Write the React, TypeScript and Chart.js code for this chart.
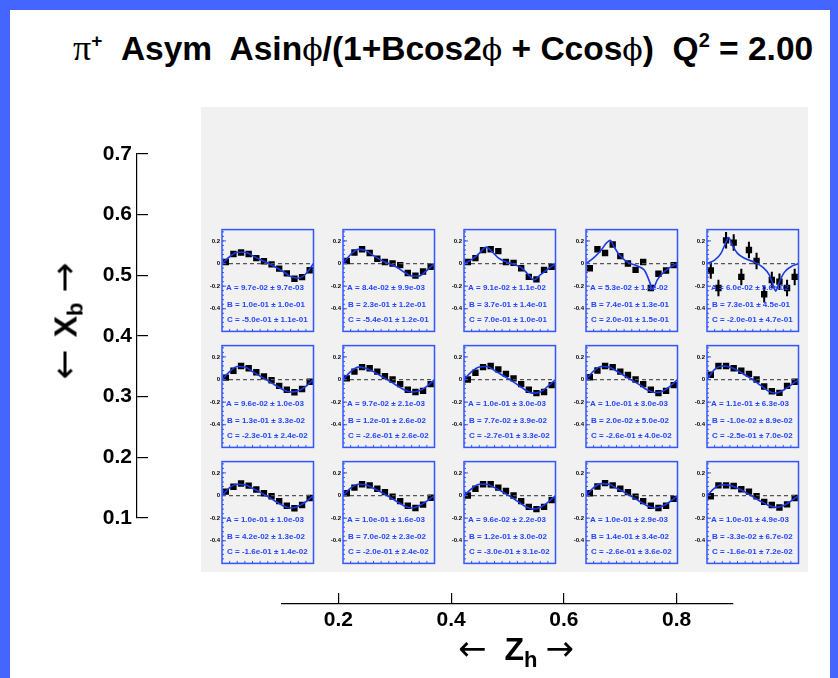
import React, { useEffect, useRef } from "react";
import { Chart, registerables } from "chart.js";
Chart.register(...registerables);

// ---------------- data ----------------
const phiBins = [15, 45, 75, 105, 135, 165, 195, 225, 255, 285, 315, 345];
const fitPhi = [0, 30, 60, 90, 120, 150, 180, 210, 240, 270, 300, 330, 360];
const fitPhiR1C3 = [0, 30, 60, 87, 110, 135, 158, 190, 224, 250, 275, 300, 330, 360];
const fitPhiR1C4 = [0, 30, 60, 80, 95, 110, 130, 160, 200, 230, 250, 262, 280, 300, 330, 360];
const fitPhiR1C5 = [0, 30, 55, 75, 85, 100, 120, 150, 190, 220, 245, 262, 270, 285, 305, 330, 360];

const asymR1C1 = [0.014, 0.084, 0.098, 0.084, 0.048, 0.02, -0.008, -0.045, -0.087, -0.135, -0.12, -0.059];
const asymR1C2 = [0.022, 0.098, 0.126, 0.093, 0.042, 0.014, 0.0, -0.014, -0.084, -0.107, -0.07, -0.028];
const asymR1C3 = [0.014, 0.048, 0.118, 0.126, 0.11, 0.014, 0.006, -0.042, -0.118, -0.14, -0.056, -0.028];
const asymR1C4 = [-0.042, 0.126, 0.093, 0.168, 0.065, 0.0, -0.056, 0.014, -0.216, -0.09, -0.062, -0.014];
const asymR1C5 = [-0.062, -0.216, 0.205, 0.185, -0.118, 0.12, 0.022, -0.272, -0.146, -0.16, -0.216, -0.118];
const asymR2C1 = [0.017, 0.078, 0.12, 0.1, 0.064, 0.028, -0.006, -0.056, -0.09, -0.112, -0.084, -0.02];
const asymR2C2 = [0.01, 0.07, 0.11, 0.1, 0.07, 0.03, 0.0, -0.04, -0.09, -0.11, -0.1, -0.04];
const asymR2C3 = [0.0, 0.06, 0.11, 0.12, 0.09, 0.05, 0.01, -0.04, -0.09, -0.12, -0.11, -0.05];
const asymR2C4 = [0.02, 0.08, 0.12, 0.11, 0.07, 0.04, 0.0, -0.04, -0.09, -0.12, -0.1, -0.05];
const asymR2C5 = [0.042, 0.12, 0.12, 0.1, 0.078, 0.05, 0.0, -0.062, -0.104, -0.118, -0.056, -0.02];
const asymR3C1 = [0.034, 0.078, 0.106, 0.087, 0.053, 0.02, -0.006, -0.05, -0.09, -0.112, -0.084, -0.022];
const asymR3C2 = [0.02, 0.07, 0.1, 0.09, 0.06, 0.03, -0.01, -0.05, -0.09, -0.11, -0.08, -0.02];
const asymR3C3 = [0.0, 0.06, 0.1, 0.1, 0.07, 0.04, 0.0, -0.05, -0.1, -0.12, -0.1, -0.04];
const asymR3C4 = [0.02, 0.08, 0.11, 0.09, 0.06, 0.03, -0.01, -0.05, -0.09, -0.11, -0.09, -0.03];
const asymR3C5 = [-0.006, 0.09, 0.09, 0.084, 0.056, 0.034, -0.006, -0.056, -0.084, -0.106, -0.078, -0.022];

const fitR1C1 = [0, 0.06, 0.1, 0.1, 0.07, 0.035, 0.005, -0.03, -0.07, -0.115, -0.13, -0.09, 0];
const fitR1C2 = [0, 0.08, 0.125, 0.115, 0.07, 0.03, 0.0, -0.03, -0.075, -0.11, -0.11, -0.06, 0];
const fitR1C3 = [0, 0.035, 0.09, 0.145, 0.105, 0.05, 0.022, -0.005, -0.034, -0.09, -0.146, -0.1, -0.05, 0];
const fitR1C4 = [0, 0.05, 0.12, 0.18, 0.205, 0.15, 0.08, 0.017, -0.02, -0.06, -0.16, -0.23, -0.146, -0.09, -0.034, 0];
const fitR1C5 = [0, 0.03, 0.09, 0.19, 0.23, 0.16, 0.09, 0.045, 0.008, -0.034, -0.1, -0.2, -0.244, -0.16, -0.076, -0.028, 0];
const fitR2C1 = [0, 0.07, 0.115, 0.11, 0.07, 0.03, -0.01, -0.05, -0.09, -0.11, -0.1, -0.06, 0];
const fitR2C2 = [0, 0.07, 0.11, 0.1, 0.07, 0.03, -0.01, -0.05, -0.09, -0.11, -0.1, -0.06, 0];
const fitR2C3 = [0, 0.07, 0.11, 0.115, 0.08, 0.04, 0, -0.045, -0.09, -0.12, -0.11, -0.06, 0];
const fitR2C4 = [0, 0.075, 0.115, 0.11, 0.075, 0.035, -0.005, -0.045, -0.09, -0.115, -0.105, -0.06, 0];
const fitR2C5 = [0, 0.09, 0.12, 0.11, 0.08, 0.04, 0, -0.05, -0.1, -0.12, -0.095, -0.05, 0];
const fitR3C1 = [0, 0.07, 0.1, 0.095, 0.065, 0.03, -0.01, -0.05, -0.09, -0.11, -0.095, -0.055, 0];
const fitR3C2 = [0, 0.065, 0.1, 0.095, 0.065, 0.03, -0.01, -0.05, -0.09, -0.11, -0.09, -0.05, 0];
const fitR3C3 = [0, 0.06, 0.1, 0.1, 0.07, 0.035, -0.005, -0.05, -0.095, -0.12, -0.105, -0.06, 0];
const fitR3C4 = [0, 0.07, 0.105, 0.1, 0.065, 0.03, -0.01, -0.05, -0.09, -0.11, -0.095, -0.055, 0];
const fitR3C5 = [0, 0.065, 0.095, 0.09, 0.065, 0.03, -0.01, -0.05, -0.085, -0.105, -0.09, -0.05, 0];

const errRow1 = [0.012, 0.013, 0.016, 0.02, 0.07];
const errRow2 = [0.006, 0.007, 0.008, 0.009, 0.012];
const errRow3 = [0.005, 0.006, 0.007, 0.008, 0.011];

const paramA = [
  "A = 9.7e-02 \u00b1 9.7e-03", "A = 8.4e-02 \u00b1 9.9e-03", "A = 9.1e-02 \u00b1 1.1e-02", "A = 5.3e-02 \u00b1 1.4e-02", "A = 6.0e-02 \u00b1 5.6e-02",
  "A = 9.6e-02 \u00b1 1.0e-03", "A = 9.7e-02 \u00b1 2.1e-03", "A = 1.0e-01 \u00b1 3.0e-03", "A = 1.0e-01 \u00b1 3.0e-03", "A = 1.1e-01 \u00b1 6.3e-03",
  "A = 1.0e-01 \u00b1 1.0e-03", "A = 1.0e-01 \u00b1 1.6e-03", "A = 9.6e-02 \u00b1 2.2e-03", "A = 1.0e-01 \u00b1 2.9e-03", "A = 1.0e-01 \u00b1 4.9e-03",
];
const paramB = [
  "B = 1.0e-01 \u00b1 1.0e-01", "B = 2.3e-01 \u00b1 1.2e-01", "B = 3.7e-01 \u00b1 1.4e-01", "B = 7.4e-01 \u00b1 1.3e-01", "B = 7.3e-01 \u00b1 4.5e-01",
  "B = 1.3e-01 \u00b1 3.3e-02", "B = 1.2e-01 \u00b1 2.6e-02", "B = 7.7e-02 \u00b1 3.9e-02", "B = 2.0e-02 \u00b1 5.0e-02", "B = -1.0e-02 \u00b1 8.9e-02",
  "B = 4.2e-02 \u00b1 1.3e-02", "B = 7.0e-02 \u00b1 2.3e-02", "B = 1.2e-01 \u00b1 3.0e-02", "B = 1.4e-01 \u00b1 3.4e-02", "B = -3.3e-02 \u00b1 6.7e-02",
];
const paramC = [
  "C = -5.0e-01 \u00b1 1.1e-01", "C = -5.4e-01 \u00b1 1.2e-01", "C = 7.0e-01 \u00b1 1.0e-01", "C = 2.0e-01 \u00b1 1.5e-01", "C = -2.0e-01 \u00b1 4.7e-01",
  "C = -2.3e-01 \u00b1 2.4e-02", "C = -2.6e-01 \u00b1 2.6e-02", "C = -2.7e-01 \u00b1 3.3e-02", "C = -2.6e-01 \u00b1 4.0e-02", "C = -2.5e-01 \u00b1 7.0e-02",
  "C = -1.6e-01 \u00b1 1.4e-02", "C = -2.0e-01 \u00b1 2.4e-02", "C = -3.0e-01 \u00b1 3.1e-02", "C = -2.6e-01 \u00b1 3.6e-02", "C = -1.6e-01 \u00b1 7.2e-02",
];

const panelAsym = [
  asymR1C1, asymR1C2, asymR1C3, asymR1C4, asymR1C5,
  asymR2C1, asymR2C2, asymR2C3, asymR2C4, asymR2C5,
  asymR3C1, asymR3C2, asymR3C3, asymR3C4, asymR3C5,
];
const panelFit = [
  fitR1C1, fitR1C2, fitR1C3, fitR1C4, fitR1C5,
  fitR2C1, fitR2C2, fitR2C3, fitR2C4, fitR2C5,
  fitR3C1, fitR3C2, fitR3C3, fitR3C4, fitR3C5,
];
const panelFitPhi = [
  fitPhi, fitPhi, fitPhiR1C3, fitPhiR1C4, fitPhiR1C5,
  fitPhi, fitPhi, fitPhi, fitPhi, fitPhi,
  fitPhi, fitPhi, fitPhi, fitPhi, fitPhi,
];
const panelErr = [...errRow1, ...errRow2, ...errRow3];

const panelYTicks = [0.2, 0, -0.2, -0.4];
const xbTicks = [0.1, 0.2, 0.3, 0.4, 0.5, 0.6, 0.7];
const zhTicks = [0.2, 0.4, 0.6, 0.8];

// ---------------- styling ----------------
const SANS = "'Liberation Sans', Arial, Helvetica, sans-serif";
const PAGE_BLUE = "#4466ff";
const FRAME_BLUE = "#3355ff";
const TEXT_BLUE = "#2244ff";
const CURVE_BLUE = "#1a3ae6";
const GRAY = "#f1f1f1";

const colLeft = [222, 343, 464, 586, 707];
const rowTop = [227, 343, 459];
const BOX_W = 93;
const BOX_H = 107;
const PAD_L = 18;
const PAD = 3;

function fmtPanelTick(v: number) {
  if (Math.abs(v) < 1e-9) return "0";
  return String(Math.round(v * 10) / 10);
}

function makeDeco(i: number) {
  return {
    id: "deco" + i,
    afterDatasetsDraw(chart: any) {
      const { ctx, chartArea: a } = chart;
      ctx.save();
      ctx.fillStyle = TEXT_BLUE;
      ctx.font = `bold 8px ${SANS}`;
      ctx.textBaseline = "middle";
      ctx.textAlign = "left";
      ctx.fillText(paramA[i], a.left + 4, a.top + 58.5);
      ctx.fillText(paramB[i], a.left + 5, a.top + 75);
      ctx.fillText(paramC[i], a.left + 5, a.top + 90.5);
      ctx.restore();
    },
    afterDraw(chart: any) {
      const { ctx, chartArea: a, scales } = chart;
      const ys = scales.y;
      const xs = scales.x;
      ctx.save();
      ctx.strokeStyle = FRAME_BLUE;
      ctx.lineWidth = 1.5;
      ctx.strokeRect(a.left, a.top, a.right - a.left, a.bottom - a.top);
      ctx.lineWidth = 1;
      ctx.beginPath();
      for (let k = -15; k <= 7; k++) {
        const v = k * 0.04;
        const py = ys.getPixelForValue(v);
        if (py < a.top + 1 || py > a.bottom - 1) continue;
        ctx.moveTo(a.left, py);
        ctx.lineTo(a.left + 2, py);
      }
      panelYTicks.forEach((v) => {
        const py = ys.getPixelForValue(v);
        ctx.moveTo(a.left, py);
        ctx.lineTo(a.left + 4, py);
      });
      for (let d = 30; d < 360; d += 30) {
        const px = xs.getPixelForValue(d);
        ctx.moveTo(px, a.bottom);
        ctx.lineTo(px, a.bottom - 2.5);
      }
      ctx.stroke();
      ctx.restore();
    },
  };
}

function Panel({ i }: { i: number }) {
  const ref = useRef<HTMLCanvasElement>(null);
  const row = Math.floor(i / 5);
  const col = i % 5;
  const W = PAD_L + BOX_W + PAD;
  const H = PAD + BOX_H + PAD;
  useEffect(() => {
    const vals = panelAsym[i];
    const err = panelErr[i];
    const fit = panelFit[i];
    const fphi = panelFitPhi[i];
    const chart = new Chart(ref.current as HTMLCanvasElement, {
      type: "scatter",
      data: {
        datasets: [
          {
            type: "line",
            data: fphi.map((p, k) => ({ x: p, y: fit[k] })),
            borderColor: CURVE_BLUE,
            borderWidth: 1.6,
            pointRadius: 0,
            showLine: true,
            cubicInterpolationMode: "monotone",
            fill: false,
            order: 0,
          } as any,
          {
            type: "line",
            data: [
              { x: 0, y: 0 },
              { x: 360, y: 0 },
            ],
            borderColor: "#555555",
            borderDash: [4, 3],
            borderWidth: 1.3,
            pointRadius: 0,
            showLine: true,
            fill: false,
            order: 1,
          } as any,
          {
            type: "scatter",
            data: phiBins.map((p, k) => ({ x: p, y: vals[k] })),
            pointStyle: "rect",
            pointRadius: 4.5,
            backgroundColor: "#000000",
            borderWidth: 0,
            order: 2,
          } as any,
          {
            type: "bar",
            data: phiBins.map((p, k) => ({ x: p, y: [vals[k] - err, vals[k] + err] })),
            backgroundColor: "#000000",
            barThickness: 1.4,
            borderWidth: 0,
            order: 3,
          } as any,
        ],
      },
      options: {
        responsive: false,
        animation: false,
        events: [],
        layout: { padding: { left: 0, top: PAD, right: PAD, bottom: PAD } },
        plugins: { legend: { display: false }, tooltip: { enabled: false }, title: { display: false } },
        scales: {
          x: { type: "linear", min: 0, max: 360, display: false, offset: false },
          y: {
            type: "linear",
            min: -0.6,
            max: 0.3,
            afterFit: (s: any) => {
              s.width = PAD_L;
            },
            afterBuildTicks: (s: any) => {
              s.ticks = panelYTicks.map((v) => ({ value: v }));
            },
            grid: { display: false, drawTicks: false },
            border: { display: false },
            ticks: {
              padding: 2,
              color: "#000",
              font: { family: SANS, size: 6, weight: "bold" },
              callback: (v: any) => fmtPanelTick(Number(v)),
            },
          },
        },
      } as any,
      plugins: [makeDeco(i)],
    });
    return () => chart.destroy();
  }, []);
  return (
    <canvas
      ref={ref}
      width={W}
      height={H}
      style={{ position: "absolute", left: colLeft[col] - PAD_L, top: rowTop[row] - PAD, width: W, height: H }}
    />
  );
}

function XbAxis() {
  const ref = useRef<HTMLCanvasElement>(null);
  useEffect(() => {
    const chart = new Chart(ref.current as HTMLCanvasElement, {
      type: "scatter",
      data: { datasets: [] },
      options: {
        responsive: false,
        animation: false,
        events: [],
        layout: { padding: { top: 154, bottom: 678 - 518, left: 0, right: 12 } },
        plugins: { legend: { display: false }, tooltip: { enabled: false } },
        scales: {
          x: { type: "linear", display: false, min: 0, max: 1 },
          y: {
            type: "linear",
            min: 0.1,
            max: 0.7,
            afterBuildTicks: (s: any) => {
              s.ticks = xbTicks.map((v) => ({ value: v }));
            },
            afterFit: (s: any) => {
              s.width = 137;
            },
            grid: { drawOnChartArea: true, drawTicks: false, color: "#000", lineWidth: 1.2 },
            border: { display: true, color: "#000", width: 1.2 },
            ticks: {
              padding: 5,
              color: "#000",
              font: { family: SANS, size: 21, weight: "bold" },
              callback: (v: any) => Number(v).toFixed(1),
            },
          },
        },
      } as any,
    });
    return () => chart.destroy();
  }, []);
  return <canvas ref={ref} width={160} height={678} style={{ position: "absolute", left: 0, top: 0, width: 160, height: 678 }} />;
}

function ZhAxis() {
  const ref = useRef<HTMLCanvasElement>(null);
  useEffect(() => {
    const chart = new Chart(ref.current as HTMLCanvasElement, {
      type: "scatter",
      data: { datasets: [] },
      options: {
        responsive: false,
        animation: false,
        events: [],
        layout: { padding: { top: 33, bottom: 0, left: 282, right: 838 - 733 } },
        plugins: { legend: { display: false }, tooltip: { enabled: false } },
        scales: {
          y: { type: "linear", display: false, min: 0, max: 1 },
          x: {
            type: "linear",
            min: 0.1,
            max: 0.9,
            afterBuildTicks: (s: any) => {
              s.ticks = zhTicks.map((v) => ({ value: v }));
            },
            afterFit: (s: any) => {
              s.height = 74;
            },
            grid: { drawOnChartArea: true, drawTicks: false, color: "#000", lineWidth: 1.2 },
            border: { display: true, color: "#000", width: 1.2 },
            ticks: {
              padding: 4,
              color: "#000",
              maxRotation: 0,
              font: { family: SANS, size: 21, weight: "bold" },
              callback: (v: any) => Number(v).toFixed(1),
            },
          },
        },
      } as any,
    });
    return () => chart.destroy();
  }, []);
  return <canvas ref={ref} width={838} height={118} style={{ position: "absolute", left: 0, top: 560, width: 838, height: 118 }} />;
}

const phiStyle: React.CSSProperties = { fontFamily: "'DejaVu Serif', serif", fontWeight: "normal", fontSize: 30 };
const Phi = () => <span style={phiStyle}>{"\u03d5"}</span>;

export default function App() {
  return (
    <div style={{ position: "absolute", left: 0, top: 0, width: 838, height: 678, background: PAGE_BLUE, overflow: "hidden" }}>
      <div style={{ position: "absolute", left: 10, top: 10, width: 820, height: 668, background: "#ffffff" }} />
      <div style={{ position: "absolute", left: 201, top: 107, width: 607, height: 465, background: GRAY }} />
      <div
        style={{
          position: "absolute",
          left: 73,
          top: 28,
          fontFamily: SANS,
          fontWeight: "bold",
          fontSize: 33.5,
          lineHeight: "40px",
          whiteSpace: "pre",
          color: "#000",
        }}
      >
        <span style={{ fontFamily: "'Liberation Serif', serif", fontWeight: "normal", fontSize: 36 }}>{"\u03c0"}</span>
        <span style={{ fontSize: 19, position: "relative", top: -13 }}>+</span>
        {"  Asym  Asin"}
        <Phi />
        {"/(1+Bcos2"}
        <Phi />
        {" + Ccos"}
        <Phi />
        {")  Q"}
        <span style={{ fontSize: 20, position: "relative", top: -13 }}>2</span>
        {" = 2.00"}
      </div>
      <XbAxis />
      <ZhAxis />
      {Array.from({ length: 15 }, (_, i) => (
        <Panel key={i} i={i} />
      ))}
      <div
        style={{
          position: "absolute",
          left: 64,
          top: 321,
          transform: "translate(-50%, -50%) rotate(-90deg)",
          whiteSpace: "nowrap",
          display: "flex",
          alignItems: "baseline",
          color: "#000",
        }}
      >
        <span style={{ fontFamily: "'DejaVu Sans', sans-serif", fontSize: 36, fontWeight: "normal" }}>{"\u2190"}</span>
        <span style={{ fontFamily: SANS, fontSize: 32, fontWeight: "bold", marginLeft: 12 }}>X</span>
        <span style={{ fontFamily: SANS, fontSize: 22, fontWeight: "bold", position: "relative", top: 6 }}>b</span>
        <span style={{ fontFamily: "'DejaVu Sans', sans-serif", fontSize: 36, fontWeight: "normal", marginLeft: 10 }}>{"\u2192"}</span>
      </div>
      <div
        style={{
          position: "absolute",
          left: 516,
          top: 648,
          transform: "translate(-50%, -50%)",
          whiteSpace: "nowrap",
          display: "flex",
          alignItems: "baseline",
          color: "#000",
        }}
      >
        <span style={{ fontFamily: "'DejaVu Sans', sans-serif", fontSize: 34, fontWeight: "normal" }}>{"\u2190"}</span>
        <span style={{ fontFamily: SANS, fontSize: 32, fontWeight: "bold", marginLeft: 18 }}>Z</span>
        <span style={{ fontFamily: SANS, fontSize: 22, fontWeight: "bold", position: "relative", top: 7 }}>h</span>
        <span style={{ fontFamily: "'DejaVu Sans', sans-serif", fontSize: 34, fontWeight: "normal", marginLeft: 8 }}>{"\u2192"}</span>
      </div>
    </div>
  );
}
